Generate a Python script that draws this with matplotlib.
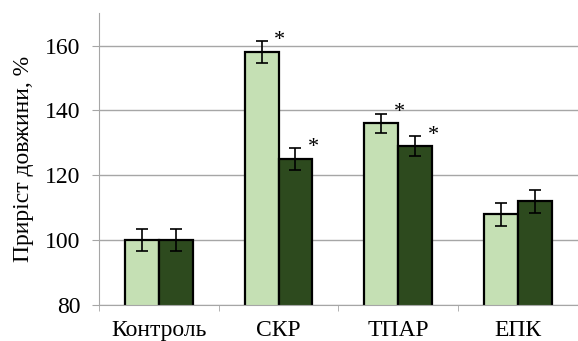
import matplotlib
matplotlib.use("Agg")
import matplotlib.pyplot as plt
import numpy as np

categories = ["Контроль", "СКР", "ТПАР", "ЕПК"]
series_a = [100, 158, 136, 108]
series_b = [100, 125, 129, 112]
err_a = [3.5, 3.5, 3, 3.5]
err_b = [3.5, 3.5, 3, 3.5]
sig_a = [False, True, True, False]
sig_b = [False, True, True, False]
yticks = [80, 100, 120, 140, 160]

plt.rcParams['font.family'] = ['Liberation Serif', 'DejaVu Serif']

fig = plt.figure(figsize=(5.78, 3.41), dpi=100)
ax = fig.add_axes([0.171, 0.1056, 0.829, 0.856])

x = np.arange(len(categories))
w = 0.283
light = "#C5E0B4"
dark = "#2D4A1E"

ax.set_axisbelow(True)
ax.yaxis.grid(True, color="#A6A6A6", linewidth=1.0)
ax.bar(x - w/2, series_a, w, bottom=0, color=light, edgecolor="black", linewidth=1.6, zorder=2)
ax.bar(x + w/2, series_b, w, bottom=0, color=dark, edgecolor="black", linewidth=1.6, zorder=2)
ax.errorbar(x - w/2, series_a, yerr=err_a, fmt="none", ecolor="black", elinewidth=1.2, capsize=4.3, capthick=1.2, zorder=3)
ax.errorbar(x + w/2, series_b, yerr=err_b, fmt="none", ecolor="black", elinewidth=1.2, capsize=4.3, capthick=1.2, zorder=3)

for i in range(len(categories)):
    if sig_a[i]:
        ax.text(x[i] + 0.01, series_a[i] + err_a[i] + 0.2, "*", ha="center", va="center", fontsize=16)
    if sig_b[i]:
        ax.text(x[i] + w + 0.01, series_b[i] + err_b[i] + 0.2, "*", ha="center", va="center", fontsize=16)

ax.set_xlim(-0.5, 3.5)
ax.set_ylim(80, 170)
ax.set_yticks(yticks)
ax.tick_params(axis="y", labelsize=17, length=5, color="#A6A6A6", pad=8)
ax.set_xticks(x)
ax.set_xticklabels(categories, fontsize=17)
ax.tick_params(axis="x", length=0, pad=11)
ax.set_xticks(np.arange(-0.5, 3.5, 1.0), minor=True)
ax.tick_params(axis="x", which="minor", length=4, color="#A6A6A6")

for s in ["top", "right"]:
    ax.spines[s].set_visible(False)
ax.spines["left"].set_color("#A6A6A6")
ax.spines["bottom"].set_color("#A6A6A6")

ax.set_ylabel("Приріст довжини, %", fontsize=17, labelpad=8)

fig.savefig("out.png", dpi=100)
